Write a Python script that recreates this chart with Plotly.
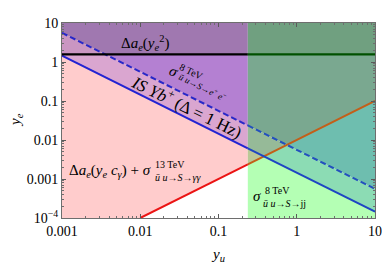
import numpy as np
import plotly.graph_objects as go
import itertools

# ---------------- data ----------------
x_range = [0.001, 10.0]
y_range = [1e-4, 10.0]

# Δa_e(y_e^2) bound (horizontal)
ae_x = [0.001, 10.0]
ae_y = [1.57, 1.57]
# IS Yb+ (Δ = 1 Hz)
yb_x = [0.001, 10.0]
yb_y = [1.45, 1.45e-4]
# σ 8 TeV  ūu→S→e+e−
ee_x = [0.001, 10.0]
ee_y = [5.6, 5.6e-4]
# Δa_e(y_e c_γ) + σ 13 TeV γγ
gg_x = [0.01, 10.0]
gg_y = [1e-4, 0.1]
# σ 8 TeV jj : excluded for y_u above this
jj_xmin = [0.237]

x_ticks = [0.001, 0.01, 0.1, 1, 10]
x_ticktext = ["0.001", "0.01", "0.1", "1", "10"]
y_ticks = [1e-4, 1e-3, 1e-2, 0.1, 1, 10]
y_ticktext = ["10<sup>−4</sup>", "0.001", "0.01", "0.1", "1", "10"]

# region colours keyed by membership (aboveγγ, aboveYb, aboveEE, aboveAe, jj)
region_colors = {
    (1, 0, 0, 0, 0): "rgb(255,204,204)",
    (1, 1, 0, 0, 0): "rgb(218,166,208)",
    (1, 1, 1, 0, 0): "rgb(180,128,210)",
    (1, 1, 1, 1, 0): "rgb(160,120,176)",
    (1, 1, 0, 1, 0): "rgb(202,150,194)",
    (0, 0, 0, 0, 1): "rgb(180,255,180)",
    (1, 0, 0, 0, 1): "rgb(186,200,150)",
    (1, 1, 0, 0, 1): "rgb(150,186,152)",
    (1, 1, 1, 0, 1): "rgb(122,168,144)",
    (1, 1, 1, 1, 1): "rgb(112,160,128)",
    (0, 1, 0, 0, 1): "rgb(140,220,180)",
    (0, 1, 1, 0, 1): "rgb(110,190,175)",
}

FONT = "Liberation Serif, Times New Roman, serif"


def line_fn(xs, ys):
    lx = np.log10(xs)
    ly = np.log10(ys)
    m = (ly[1] - ly[0]) / (lx[1] - lx[0])
    return lambda X: ly[0] + m * (X - lx[0])


def clip(poly, f):
    out = []
    n = len(poly)
    for i in range(n):
        a, b = poly[i], poly[(i + 1) % n]
        fa, fb = f(a), f(b)
        if fa >= 0:
            out.append(a)
        if (fa >= 0) != (fb >= 0):
            t = fa / (fa - fb)
            out.append((a[0] + t * (b[0] - a[0]), a[1] + t * (b[1] - a[1])))
    return out


def area(poly):
    if len(poly) < 3:
        return 0.0
    s = 0.0
    for i in range(len(poly)):
        x1, y1 = poly[i]
        x2, y2 = poly[(i + 1) % len(poly)]
        s += x1 * y2 - x2 * y1
    return abs(s) / 2


fns = [line_fn(gg_x, gg_y), line_fn(yb_x, yb_y), line_fn(ee_x, ee_y), line_fn(ae_x, ae_y)]
lx0 = np.log10(jj_xmin[0])

X0, X1 = np.log10(x_range)
Y0, Y1 = np.log10(y_range)
rect = [(X0, Y0), (X1, Y0), (X1, Y1), (X0, Y1)]

fig = go.Figure()

for key in itertools.product([0, 1], repeat=5):
    poly = rect
    for k, fn in enumerate(fns):
        sgn = 1 if key[k] else -1
        poly = clip(poly, lambda p, fn=fn, s=sgn: s * (p[1] - fn(p[0])))
        if not poly:
            break
    if poly:
        sg = 1 if key[4] else -1
        poly = clip(poly, lambda p, s=sg: s * (p[0] - lx0))
    if area(poly) < 1e-9:
        continue
    col = region_colors.get(key, "white")
    xs = [10 ** p[0] for p in poly] + [10 ** poly[0][0]]
    ys = [10 ** p[1] for p in poly] + [10 ** poly[0][1]]
    fig.add_trace(go.Scatter(x=xs, y=ys, mode="lines", fill="toself", fillcolor=col,
                             line=dict(width=0, color=col), hoverinfo="skip", showlegend=False))


def draw_line(xs, ys, cl, cr, dash="solid", width=2):
    fn = line_fn(xs, ys)
    xm = jj_xmin[0]
    ym = 10 ** fn(lx0)
    segs = [([xs[0], xm], [ys[0], ym], cl), ([xm, xs[1]], [ym, ys[1]], cr)]
    for sx, sy, c in segs:
        fig.add_trace(go.Scatter(x=sx, y=sy, mode="lines", line=dict(color=c, width=width, dash=dash),
                                 hoverinfo="skip", showlegend=False))


draw_line(gg_x, gg_y, "rgb(235,20,20)", "rgb(195,95,25)")
draw_line(yb_x, yb_y, "rgb(35,35,210)", "rgb(30,70,195)")
draw_line(ee_x, ee_y, "rgb(40,40,200)", "rgb(35,80,190)", dash="6px,3px")
draw_line(ae_x, ae_y, "black", "rgb(0,80,0)", width=2.2)

# page body has an 8px margin: compensate so the plot area lands at the reference pixels
OFF = 8
W, H = 382, 258
L, R, T, B = 62 - OFF, 8, 21 - OFF, 48
PW, PH = W - L - R, H - T - B


def P(px, py):
    # px, py are screen pixels in the reference
    return (px - OFF - L) / PW, (H - B - (py - OFF)) / PH


annotations = []


def ann(text, px, py, size=15, angle=0, xanchor="center", yanchor="middle"):
    x, y = P(px, py)
    annotations.append(dict(text=text, x=x, y=y, xref="paper", yref="paper", showarrow=False,
                            textangle=angle, xanchor=xanchor, yanchor=yanchor,
                            font=dict(family=FONT, size=size, color="black")))


ann("Δ<i>a</i><sub><i>e</i></sub>(<i>y</i><sub><i>e</i></sub><sup>2</sup>)", 147, 41, 15)
ann("<i>IS Yb</i><sup>+</sup> (Δ = 1 Hz)", 190, 105, 17, angle=26)
ann("<i>σ</i>", 176, 69, 15, angle=26)
ann("8 TeV", 194, 70, 10, angle=26)
ann("<i>ū</i> <i>u</i>→<i>S</i>→<i>e</i><sup>+</sup> <i>e</i><sup>−</sup>", 206, 86, 9, angle=26)
ann("Δ<i>a</i><sub><i>e</i></sub>(<i>y</i><sub><i>e</i></sub> <i>c</i><sub><i>γ</i></sub>) + <i>σ</i>", 155, 171, 15,
    xanchor="right")
ann("13 TeV", 155, 164, 10, xanchor="left")
ann("<i>ū</i> <i>u</i>→<i>S</i>→<i>γγ</i>", 155, 177, 10, xanchor="left")
ann("<i>σ</i>", 268, 196, 15, xanchor="right")
ann("8 TeV", 268, 190, 10, xanchor="left")
ann("<i>ū</i> <i>u</i>→<i>S</i>→jj", 265, 203, 10, xanchor="left")
ann("<i>y</i><sub><i>u</i></sub>", 221, 255, 15)
ann("<i>y</i><sub><i>e</i></sub>", 15, 119, 15, angle=-90)

axis_common = dict(showgrid=False, zeroline=False, showline=True, linecolor="rgb(110,110,110)", linewidth=1,
                   mirror="allticks", ticks="inside", ticklen=4, tickcolor="rgb(90,90,90)", tickwidth=1,
                   tickfont=dict(family=FONT, size=14, color="black"),
                   minor=dict(ticks="inside", ticklen=2, tickcolor="rgb(110,110,110)", dtick="D1", showgrid=False))

fig.update_xaxes(type="log", range=[np.log10(x_range[0]), np.log10(x_range[1])],
                 tickvals=x_ticks, ticktext=x_ticktext, **axis_common)
fig.update_yaxes(type="log", range=[np.log10(y_range[0]), np.log10(y_range[1])],
                 tickvals=y_ticks, ticktext=y_ticktext, **axis_common)

fig.update_layout(width=W, height=H, margin=dict(l=L, r=R, t=T, b=B, pad=0),
                  plot_bgcolor="white", paper_bgcolor="white", annotations=annotations,
                  showlegend=False)

fig.write_html("out.html")
